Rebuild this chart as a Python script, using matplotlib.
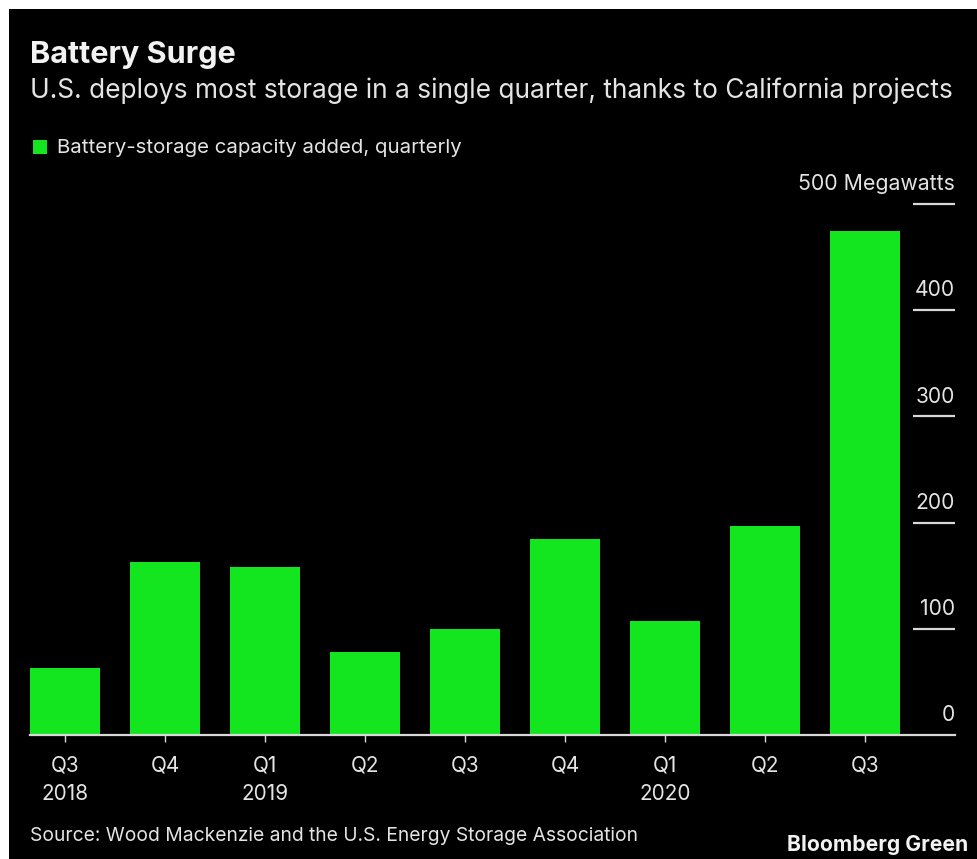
import matplotlib
matplotlib.use("Agg")
import matplotlib.pyplot as plt
from matplotlib.patches import Rectangle

# ---- data ----
quarters = ["Q3", "Q4", "Q1", "Q2", "Q3", "Q4", "Q1", "Q2", "Q3"]
years = ["2018", "", "2019", "", "", "", "2020", "", ""]
capacity_mw = [63, 163, 158, 78, 100, 185, 107, 197, 475]
yticks = [0, 100, 200, 300, 400, 500]
ytick_labels = ["0", "100", "200", "300", "400", "500 Megawatts"]

title = "Battery Surge"
subtitle = "U.S. deploys most storage in a single quarter, thanks to California projects"
legend_label = "Battery-storage capacity added, quarterly"
source = "Source: Wood Mackenzie and the U.S. Energy Storage Association"
brand = "Bloomberg Green"

# ---- style ----
W, H = 978, 859
GREEN = "#13e61f"
TXT = "#e4e4e4"
LINE = "#d8d8d8"
FONT = "Inter"
plt.rcParams["font.family"] = [FONT, "DejaVu Sans"]

fig = plt.figure(figsize=(W / 100, H / 100), dpi=100, facecolor="black")

fig.patches.append(Rectangle((0, 1 - 9 / H), 1, 9 / H, transform=fig.transFigure,
                             facecolor="white", edgecolor="none", zorder=0))
fig.patches.append(Rectangle((0, 0), 9 / W, 1, transform=fig.transFigure,
                             facecolor="white", edgecolor="none", zorder=0))

def px(x, y):
    return x / W, 1 - y / H

ax_left, ax_right = 30, 955
ax_bottom, ax_top = 735, 204
ax = fig.add_axes([ax_left / W, 1 - ax_bottom / H,
                   (ax_right - ax_left) / W, (ax_bottom - ax_top) / H])
ax.set_facecolor("black")

x = list(range(len(capacity_mw)))
ax.bar(x, capacity_mw, width=0.7, color=GREEN, zorder=2)
ax.set_xlim(-0.35, 8.9)
ax.set_ylim(0, 500)

for s in ax.spines.values():
    s.set_visible(False)

ax.axhline(0, color=LINE, lw=1.6, zorder=3, clip_on=False)

ytr = ax.get_yaxis_transform()
gx0 = (913 - ax_left) / (ax_right - ax_left)
ylabels = []
for v, lab in zip(yticks, ytick_labels):
    if v != 0:
        ax.plot([gx0, 1], [v, v], transform=ytr, color=LINE, lw=1.6,
                clip_on=False, solid_capstyle="butt", zorder=3)
    t = ax.annotate(lab, xy=(1, v), xycoords=ytr, xytext=(0, 10),
                    textcoords="offset points", ha="right", va="baseline",
                    color=TXT, fontsize=14.5)
    ylabels.append(t)
ax.set_yticks([])

ax.set_xticks(x)
ax.set_xticklabels([q + ("\n" + y if y else "") for q, y in zip(quarters, years)],
                   fontsize=14.5, color=TXT, linespacing=1.5)
ax.tick_params(axis="x", length=5, width=1, color=LINE, pad=10)
for t in ax.get_xticklabels():
    t.set_verticalalignment("top")

t_title = fig.text(*px(30, 63), title, fontsize=21.5, fontweight="bold", color="#f2f2f2",
                   ha="left", va="baseline")
t_sub = fig.text(*px(30, 98), subtitle, fontsize=17.5, color=TXT, ha="left", va="baseline")

fig.patches.append(Rectangle(px(33, 154), 14 / W, 14 / H, transform=fig.transFigure,
                             facecolor=GREEN, edgecolor="none"))
t_leg = fig.text(*px(57, 153), legend_label, fontsize=14, color=TXT, ha="left", va="baseline")

t_src = fig.text(*px(30, 841), source, fontsize=14.2, color=TXT, ha="left", va="baseline")
t_brand = fig.text(*px(968, 851), brand, fontsize=14.5, fontweight="bold", color="#f2f2f2",
                   ha="right", va="baseline")

# fit text widths to the reference's measured widths (pixels)
fig.canvas.draw()
r = fig.canvas.get_renderer()
def fit(t, target):
    w = t.get_window_extent(r).width
    t.set_fontsize(t.get_fontsize() * target / w)

fit(t_title, 206)
fit(t_sub, 925)
fit(t_leg, 405)
fit(t_src, 608)
fit(t_brand, 180)
fit(ylabels[-1], 157)
fit(ylabels[4], 40)
s = ylabels[4].get_fontsize()
for t in ylabels[:-1]:
    t.set_fontsize(s)
tmp = fig.text(0, 0, "2018", fontsize=14.5)
fig.canvas.draw()
xs = 14.5 * 47 / tmp.get_window_extent(r).width
tmp.remove()
for t in ax.get_xticklabels():
    t.set_fontsize(xs)

fig.savefig("out.png", dpi=100, facecolor="black")
